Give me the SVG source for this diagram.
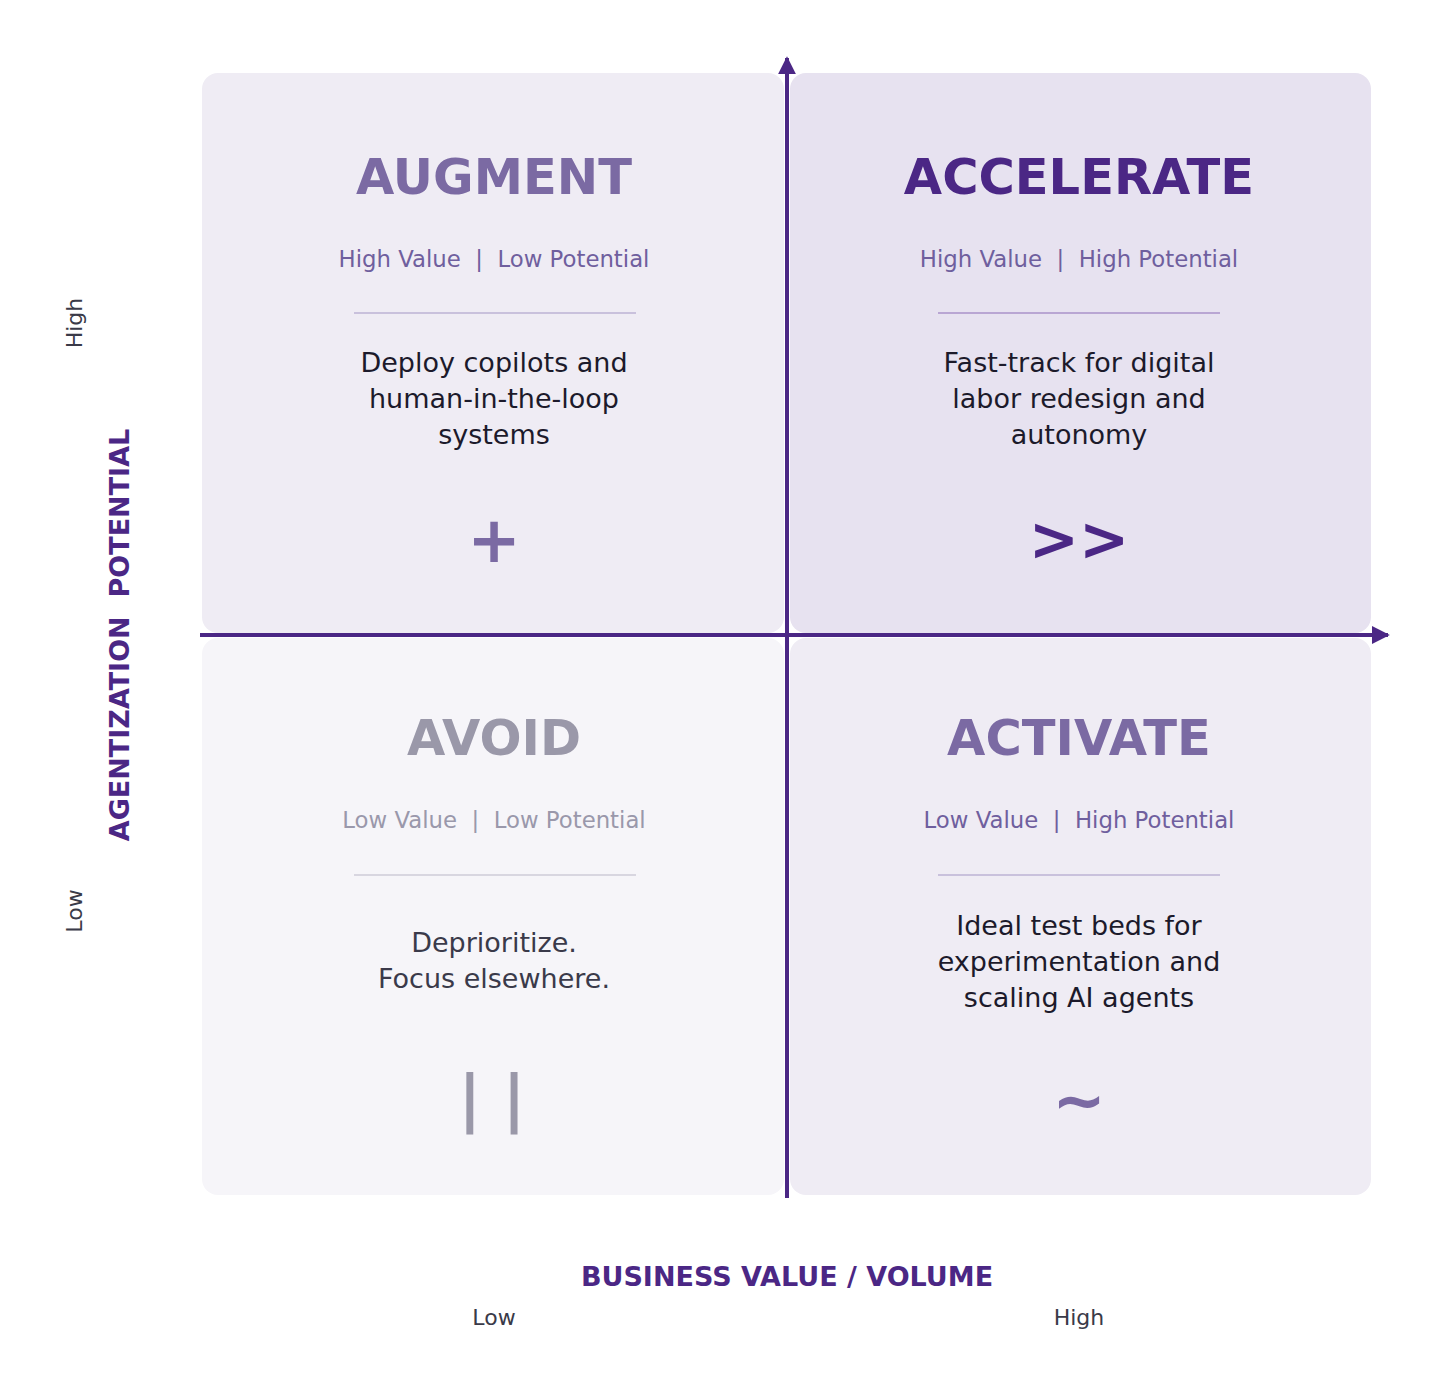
<svg xmlns="http://www.w3.org/2000/svg" width="1456" height="1398" viewBox="0 0 1456 1398">
<style>
text{font-family:"DejaVu Sans","Liberation Sans",sans-serif;text-anchor:middle}
.title{font-size:49.5px;font-weight:bold}
.sub{font-size:22.8px}
.body{font-size:27px;fill:#1c1a2b}
.sym{font-size:64px;font-weight:bold}
.axis{font-size:27px;font-weight:bold;fill:#4b2785}
.tick{font-size:22px;fill:#3a3a48}
.div{stroke-width:2}
</style>
<defs>
<marker id="ah" viewBox="0 0 10 10" refX="9" refY="5" markerWidth="4.5" markerHeight="4.5" orient="auto" markerUnits="strokeWidth">
<path d="M0,0 L10,5 L0,10 z" fill="#4b2785"/>
</marker>
</defs>
<rect width="1456" height="1398" fill="#ffffff"/>
<g id="augment">
<rect x="202" y="73" width="582" height="560" rx="16" fill="#efecf4"/>
<text class="title" x="494" y="194" fill="#7b6aa3">AUGMENT</text>
<text class="sub" x="494" y="267" fill="#6f5f9e" xml:space="preserve">High Value  |  Low Potential</text>
<line class="div" x1="354" y1="313" x2="636" y2="313" stroke="#c9c1dc"/>
<text class="body" x="494" y="372">Deploy copilots and</text>
<text class="body" x="494" y="408">human-in-the-loop</text>
<text class="body" x="494" y="444">systems</text>
<text class="sym" x="494" y="562" fill="#7b6aa3">+</text>
</g>
<g id="accelerate">
<rect x="790" y="73" width="581" height="560" rx="16" fill="#e7e2f0"/>
<text class="title" x="1079" y="194" fill="#4b2785">ACCELERATE</text>
<text class="sub" x="1079" y="267" fill="#6f5f9e" xml:space="preserve">High Value  |  High Potential</text>
<line class="div" x1="938" y1="313" x2="1220" y2="313" stroke="#b9a6d3"/>
<text class="body" x="1079" y="372">Fast-track for digital</text>
<text class="body" x="1079" y="408">labor redesign and</text>
<text class="body" x="1079" y="444">autonomy</text>
<text class="sym" x="1079" y="560" fill="#4b2785" style="font-size:60px">&gt;&gt;</text>
</g>
<g id="avoid">
<rect x="202" y="638" width="582" height="557" rx="16" fill="#f6f5f9"/>
<text class="title" x="494" y="755" fill="#9a98a9">AVOID</text>
<text class="sub" x="494" y="828" fill="#9a98ab" xml:space="preserve">Low Value  |  Low Potential</text>
<line class="div" x1="354" y1="875" x2="636" y2="875" stroke="#d8d6e0"/>
<text class="body" x="494" y="952" style="fill:#3a3a4a">Deprioritize.</text>
<text class="body" x="494" y="988" style="fill:#3a3a4a">Focus elsewhere.</text>
<text x="492" y="1119" style="font-size:62px;font-weight:bold" fill="#9a98a9" xml:space="preserve">| |</text>
</g>
<g id="activate">
<rect x="790" y="638" width="581" height="557" rx="16" fill="#efecf4"/>
<text class="title" x="1079" y="755" fill="#7b6aa3">ACTIVATE</text>
<text class="sub" x="1079" y="828" fill="#6f5f9e" xml:space="preserve">Low Value  |  High Potential</text>
<line class="div" x1="938" y1="875" x2="1220" y2="875" stroke="#c9c1dc"/>
<text class="body" x="1079" y="935">Ideal test beds for</text>
<text class="body" x="1079" y="971">experimentation and</text>
<text class="body" x="1079" y="1007">scaling AI agents</text>
<text class="sym" x="1079" y="1122" fill="#7b6aa3">~</text>
</g>
<g id="axes">
<line x1="787" y1="1198" x2="787" y2="58" stroke="#4b2785" stroke-width="4" marker-end="url(#ah)"/>
<line x1="200" y1="635" x2="1388" y2="635" stroke="#4b2785" stroke-width="4" marker-end="url(#ah)"/>
</g>
<g id="labels">
<text class="axis" x="787" y="1286">BUSINESS VALUE / VOLUME</text>
<text class="tick" x="494" y="1325">Low</text>
<text class="tick" x="1079" y="1325">High</text>
<text class="axis" transform="translate(129,635) rotate(-90)" xml:space="preserve">AGENTIZATION  POTENTIAL</text>
<text class="tick" transform="translate(82,323) rotate(-90)">High</text>
<text class="tick" transform="translate(82,911) rotate(-90)">Low</text>
</g>
</svg>
